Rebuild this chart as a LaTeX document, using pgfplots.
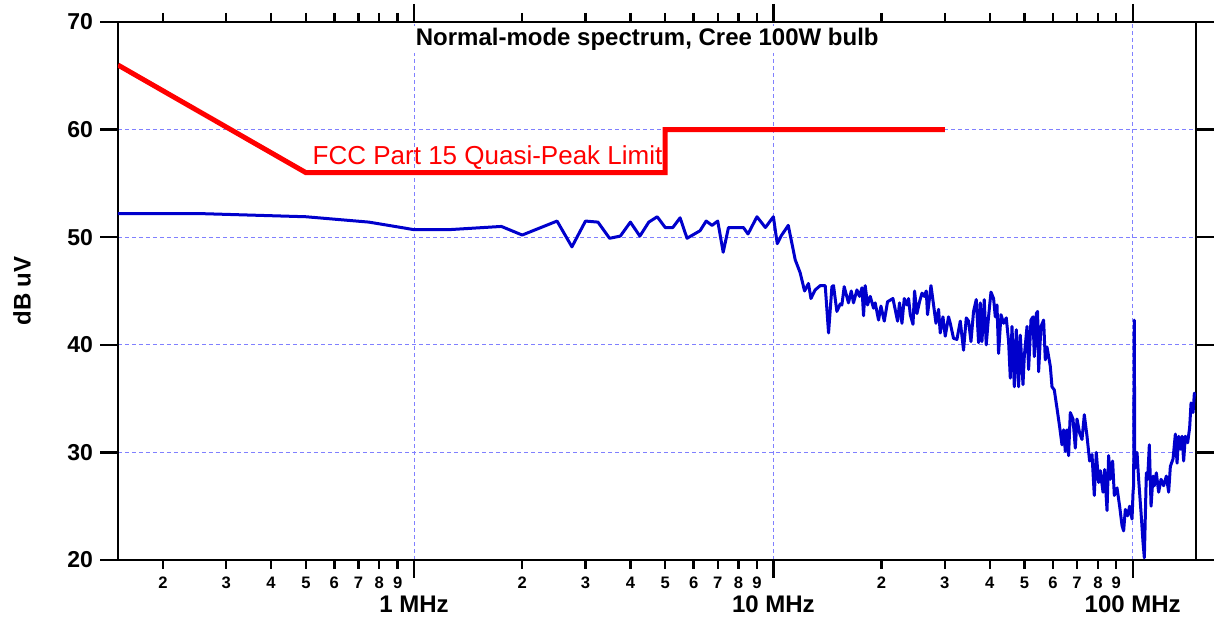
\documentclass[border=0pt]{standalone}
\usepackage{fontspec}
\setmainfont{Liberation Sans}
\usepackage{pgfplots}
\pgfplotsset{compat=1.18}
\definecolor{limred}{RGB}{255,0,0}
\definecolor{specblue}{RGB}{0,0,204}
\definecolor{gridblue}{RGB}{128,128,255}
\begin{document}
\begin{tikzpicture}
\useasboundingbox (-59pt,-29.5pt) rectangle (553.5pt,280pt);
\begin{axis}[
  at={(0,0)}, anchor=south west,
  scale only axis, width=539pt, height=269pt,
  xmode=log, log basis x=10,
  xmin=0.15, xmax=150, ymin=20, ymax=70,
  xtick={1,10,100}, xticklabels={1 MHz,10 MHz,100 MHz},
  ytick={20,30,40,50,60,70},
  tick align=outside,
  major tick length=9pt,
  minor tick length=4.5pt,
  axis line style={line width=1.2pt},
  every tick/.style={black, line width=1.2pt},
  grid=major,
  major grid style={gridblue, line width=0.5pt, dash pattern=on 2pt off 1.5pt},
  minor grid style={draw=none},
  extra x ticks={0.2,0.3,0.4,0.5,0.6,0.7,0.8,0.9,2,3,4,5,6,7,8,9,20,30,40,50,60,70,80,90},
  extra x tick labels={2,3,4,5,6,7,8,9,2,3,4,5,6,7,8,9,2,3,4,5,6,7,8,9},
  extra x tick style={grid=none, major tick length=4.5pt,
     xticklabel style={font=\bfseries\fontsize{8.3}{9}\selectfont, anchor=north, yshift=5pt}},
  xticklabel style={font=\bfseries\fontsize{12}{12}\selectfont, anchor=north, yshift=-5.5pt},
  yticklabel style={font=\bfseries\fontsize{11.5}{11.5}\selectfont},
  /pgf/number format/assume math mode=true,
  ylabel={dB uV},
  every axis y label/.style={at={(axis description cs:-0.089,0.5)}, rotate=90, anchor=center, font=\bfseries\fontsize{12}{12}\selectfont},
]
\addplot[limred, line width=2.5pt] coordinates {(0.15,66) (0.5,56) (5,56) (5,60) (30,60)};
\addplot[specblue, line width=1.5pt, line join=round] coordinates {
(0.15,52.2) (0.25,52.2) (0.5,51.9) (0.75,51.4) (1.0,50.7) (1.25,50.7) (1.75,51.0) (2.0,50.2) (2.5,51.5) (2.75,49.1) (3.0,51.5) (3.25,51.4) (3.5,49.9) (3.75,50.1) (4.0,51.4) (4.25,50.1) (4.5,51.4) (4.75,51.9) (5.0,50.9) (5.25,50.9) (5.5,51.8) (5.75,49.9) (6.25,50.6) (6.5,51.5) (6.75,51.1) (7.0,51.5) (7.25,48.6) (7.5,50.9) (8.25,50.9) (8.5,50.3) (9.0,51.9) (9.5,50.9) (10.0,51.9) (10.25,49.4) (10.5,50.1) (11.0,51.1)
(11.50,47.9) (11.87,46.7) (12.21,45.0) (12.52,45.7) (12.72,44.3) (13.07,45.1) (13.50,45.5) (13.94,45.5) (14.24,41.1) (14.55,45.4) (14.70,45.5) (15.02,43.1) (15.35,43.8) (15.51,43.7) (15.74,45.4) (16.18,43.9) (16.47,45.0) (16.71,43.9) (17.08,45.1) (17.37,44.5) (17.64,45.3) (17.82,42.7) (18.01,45.5) (18.28,43.7) (18.60,44.5) (19.00,43.4) (19.20,43.9) (19.62,42.3) (19.92,43.6) (20.35,42.2) (20.78,44.0) (21.51,44.3) (22.16,42.2) (22.44,43.9) (22.79,42.0) (23.13,44.3) (23.53,43.7) (23.78,44.3) (24.04,42.8) (24.46,41.9) (24.71,45.0) (25.09,42.9) (25.51,44.0) (25.91,44.8) (26.29,44.5) (26.63,45.0) (26.85,42.8) (27.45,45.5) (27.91,43.7) (28.34,42.0) (28.82,43.3) (29.13,41.1) (29.64,42.6) (30.08,40.8) (30.72,42.6)
(31.06,42.0) (31.72,40.6) (32.42,40.5) (33.12,42.2) (33.82,39.5) (34.42,42.5) (34.93,42.2) (35.47,40.3) (36.06,43.1) (36.69,44.2) (37.24,40.2) (37.65,43.9) (38.06,40.3) (38.62,44.2) (39.12,40.0) (39.70,42.6) (40.32,44.9) (41.00,44.3) (41.45,42.6) (41.90,43.7) (42.33,39.2) (42.99,42.8) (43.71,42.0) (44.47,42.5) (45.14,40.3) (45.63,36.9) (46.13,41.7) (46.82,36.1) (47.42,41.4) (48.12,36.1) (48.65,40.9) (49.50,36.3) (49.91,38.9) (50.79,41.7) (51.31,37.7) (52.10,42.3) (52.78,42.6) (53.22,38.9) (53.91,42.9) (54.36,43.1) (54.71,37.5) (55.55,41.7) (56.49,42.3) (57.11,38.6) (57.73,39.8) (58.97,38.0) (59.61,36.1) (60.50,35.8) (61.55,34.1) (62.59,32.4) (63.56,30.7) (64.21,32.1) (64.92,30.1) (65.63,32.1) (66.30,29.7) (67.03,33.7) (68.20,33.1) (69.22,30.4) (69.97,33.1) (71.15,31.8) (72.25,31.2) (73.33,33.5) (74.61,31.5) (75.86,29.2) (77.04,29.8) (78.18,26.0) (79.19,30.0) (80.36,27.2) (81.25,28.3) (82.66,26.3) (83.52,28.4) (84.81,24.6) (85.69,29.7) (86.62,27.5) (87.91,29.2) (88.87,26.0) (90.43,26.7) (91.95,25.0) (93.37,23.2) (94.33,22.7) (95.37,24.7) (96.78,24.1) (98.03,25.0) (99.55,23.8) (100.2,26.3) (100.6,27.0) (101.0,42.3) (101.3,28.5) (102.79,30.0) (103.85,27.5) (105.47,24.4) (106.83,21.6) (107.72,20.2) (109.11,28.1) (110.02,27.5) (111.23,30.7) (112.45,25.0) (113.90,27.8) (114.85,26.9) (116.33,28.1) (118.06,26.3) (119.89,27.5) (121.91,26.9) (124.03,27.8) (125.88,26.3) (127.26,28.7) (129.48,29.4) (131.40,31.7) (132.84,29.0) (134.21,31.5) (135.68,30.3) (137.17,31.5) (138.58,29.2) (140.10,31.5) (142.18,30.9) (144.01,32.3) (145.31,34.6) (147.19,33.7) (148.42,35.5) (149.66,35.2)
};
\node[anchor=base, fill=white, inner xsep=5pt, inner ysep=1pt, font=\bfseries\fontsize{12}{12}\selectfont] at (rel axis cs:0.491,0.956) {Normal-mode spectrum, Cree 100W bulb};
\node[anchor=base, text=limred, font=\fontsize{13}{13}\selectfont] at (rel axis cs:0.3428,0.736) {FCC Part 15 Quasi-Peak Limit};
\end{axis}
\end{tikzpicture}
\end{document}
